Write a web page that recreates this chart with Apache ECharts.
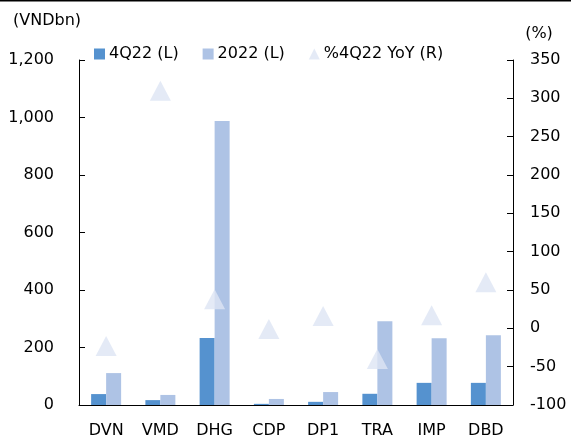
<!DOCTYPE html>
<html><head><meta charset="utf-8">
<script src="https://cdn.jsdelivr.net/npm/echarts@6/dist/echarts.min.js"></script>
<style>html,body{margin:0;padding:0;background:#fff}#c{width:571px;height:439px}</style>
</head><body><div id="c"></div>
<script>
const categories = ['DVN','VMD','DHG','CDP','DP1','TRA','IMP','DBD'];
const q4_22 = [38, 17, 233, 4, 11, 39, 77, 77];
const y2022 = [111, 35, 988, 21, 45, 291, 232, 243];
const yoy = [-23, 310, 38, -1, 16, -40, 17, 60];
const leftTicks = [0, 1200, 200];
const rightTicks = [-100, 350, 50];

const FONT = 'DejaVu Sans';
const FS = 16;
const chart = echarts.init(document.getElementById('c'));
chart.setOption({
  animation: false,
  textStyle: {fontFamily: FONT},
  graphic: [{type:'line', shape:{x1:0,y1:0.5,x2:571,y2:0.5}, style:{stroke:'#000', lineWidth:2}}],
  legend: {
    top: 41, left: 89, itemWidth: 11, itemHeight: 11, itemGap: 24,
    textStyle: {fontFamily: FONT, fontSize: FS, color: '#000', padding: [0,0,0,-1]},
    data: [{name:'4Q22 (L)', icon:'rect'}, {name:'2022 (L)', icon:'rect'}, {name:'%4Q22 YoY (R)', icon:'triangle', itemStyle:{color:'#dde5f4'}}]
  },
  grid: {left: 79, right: 58, top: 60, bottom: 34},
  xAxis: {
    type: 'category', data: categories,
    axisLine: {lineStyle: {color: '#000', width: 1}},
    axisTick: {inside: true, length: 6, lineStyle: {color: '#000'}},
    axisLabel: {fontFamily: FONT, fontSize: FS, color: '#000', margin: 18}
  },
  yAxis: [{
    type: 'value', min: leftTicks[0], max: leftTicks[1], interval: leftTicks[2],
    name: '(VNDbn)', nameLocation: 'end', nameGap: 31,
    nameTextStyle: {fontFamily: FONT, fontSize: FS, color: '#000', align: 'center', padding:[0,64,0,0]},
    axisLine: {show: true, lineStyle: {color: '#000'}},
    axisTick: {show: true, inside: true, length: 6, lineStyle: {color: '#000'}},
    splitLine: {show: false},
    axisLabel: {fontFamily: FONT, fontSize: FS, color: '#000', margin: 25,
      formatter: v => v.toLocaleString('en-US')}
  }, {
    type: 'value', min: rightTicks[0], max: rightTicks[1], interval: rightTicks[2],
    name: '(%)', nameLocation: 'end', nameGap: 18,
    nameTextStyle: {fontFamily: FONT, fontSize: FS, color: '#000', align: 'center', padding:[0,0,0,52]},
    axisLine: {show: true, lineStyle: {color: '#000'}},
    axisTick: {show: true, inside: true, length: 6, lineStyle: {color: '#000'}},
    splitLine: {show: false},
    axisLabel: {fontFamily: FONT, fontSize: FS, color: '#000', margin: 17}
  }],
  series: [
    {name: '4Q22 (L)', type: 'bar', data: q4_22, barWidth: 15, barGap: '0%', itemStyle: {color: '#5592cf'}},
    {name: '2022 (L)', type: 'bar', data: y2022, barWidth: 15, itemStyle: {color: '#aec3e5'}},
    {name: '%4Q22 YoY (R)', type: 'scatter', yAxisIndex: 1, data: yoy, symbol: 'triangle', symbolSize: [21, 20], itemStyle: {color: '#dde5f4'}, z: 5}
  ]
});
</script></body></html>
